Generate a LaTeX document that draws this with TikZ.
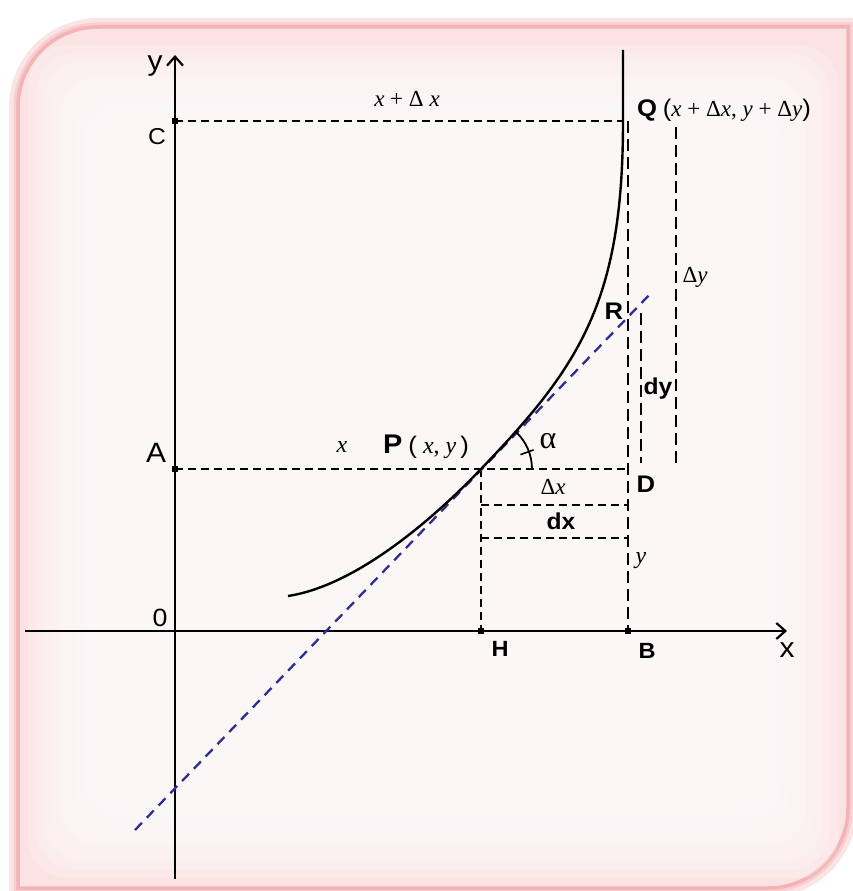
\documentclass[tikz,border=0pt]{standalone}
\usepackage{fontspec}
\setmainfont{Liberation Serif}
\setsansfont[FakeStretch=1.07]{Liberation Sans}
\usetikzlibrary{arrows.meta}

\definecolor{framepink}{HTML}{F4B3B5}
\definecolor{edgepink}{HTML}{FBE3E4}
\definecolor{corepink}{HTML}{FEFAFA}
\definecolor{tanblue}{HTML}{2E2E8F}
\newcommand{\fsz}[1]{\fontsize{#1}{#1}\selectfont}
\newcommand{\framepath}{(18,888) -- (18,107) arc[start angle=180, end angle=270, radius=80]
  -- (848,27) -- (848,808) arc[start angle=0, end angle=90, radius=80] -- cycle}

\begin{document}
\begin{tikzpicture}[x=1pt, y=-1pt,
  every node/.style={inner sep=0pt},
  axis/.style={line width=2.5pt, -{Straight Barb[length=9pt,width=16pt,line width=2.2pt]}},
  guide/.style={line width=2.2pt, dash pattern=on 8pt off 5pt},
  thinguide/.style={line width=1.5pt, dash pattern=on 12pt off 6pt},
  tangent/.style={draw=tanblue, line width=2.3pt, dash pattern=on 10pt off 7pt},
  curve/.style={line width=2.4pt},
  tick/.style={rectangle, fill=black, minimum size=5.5pt},
  ptlbl/.style={font=\sffamily\bfseries\fsz{24}},
  var/.style={font=\fsz{23}}]

\useasboundingbox (0,0) rectangle (852,891);

% frame
\draw[framepink!35, line width=18pt] \framepath;
\draw[framepink!65, line width=9pt] \framepath;
\fill[edgepink] \framepath;
\draw[framepink, line width=3.5pt] \framepath;
\begin{scope}
  \clip \framepath;
  \foreach \i in {0,...,11}
    \fill[corepink, opacity=0.25, rounded corners=40pt]
      (28+8*\i,45+8*\i) rectangle (838-8*\i,878-8*\i);
\end{scope}

% points
\coordinate (O) at (175,631);
\coordinate (C) at (175,121);
\coordinate (A) at (175,469);
\coordinate (P) at (481,469);
\coordinate (H) at (481,631);
\coordinate (Q) at (623,121);
\coordinate (Qv) at (628,121);
\coordinate (D) at (628,469);
\coordinate (B) at (628,631);
\coordinate (dxa) at (481,505);
\coordinate (dxaR) at (628,505);
\coordinate (dxb) at (481,538);
\coordinate (dxbR) at (628,538);
\coordinate (dytop) at (641,313);
\coordinate (dybot) at (641,463);
\coordinate (Dytop) at (676,127);
\coordinate (Dybot) at (676,463);
\coordinate (ybot) at (175,879);
\coordinate (ytop) at (175,55);
\coordinate (xleft) at (25,631);
\coordinate (xright) at (787,631);
\coordinate (tanlow) at (135,830);
\coordinate (tanhigh) at (652,292);
\coordinate (cstart) at (288,596);
\coordinate (cend) at (623,50);

% dashed guides
\draw[guide] (C) -- (Q);
\draw[guide] (A) -- (D);
\draw[guide] (P) -- (H);
\draw[guide] (dxa) -- (dxaR);
\draw[guide] (dxb) -- (dxbR);
\draw[thinguide] (Qv) -- (B);
\draw[thinguide] (dytop) -- (dybot);
\draw[thinguide] (Dytop) -- (Dybot);

% axes
\draw[axis] (ybot) -- (ytop);
\draw[axis] (xleft) -- (xright);
\node[tick] (tC) at (C) {};
\node[tick] (tA) at (A) {};
\node[tick] (tH) at (H) {};
\node[tick] (tB) at (B) {};

% tangent and curve
\draw[tangent] (tanlow) -- (tanhigh);
\draw[curve] (cstart) .. controls (360,585) and (440,512) .. (P)
  .. controls (581,365) and (623,300) .. (Q) -- (cend);

% angle
\draw[line width=1.8pt] (P) ++(0:51) arc[start angle=0, end angle=-46, radius=51];
\draw[line width=1.6pt] (P) ++(-20:42) -- ++(-20:14);

% labels
\node[font=\sffamily\fsz{28}] (ylab) at (155,66) {y};
\node[font=\sffamily\fsz{28}] (xlab) at (787,650) {x};
\node[font=\sffamily\fsz{25}] (Olab) at (160,618) {0};
\node[font=\sffamily\fsz{23}] (Clab) at (157,137) {C};
\node[font=\sffamily\fsz{28}] (Alab) at (156,453) {A};
\node[font=\sffamily\bfseries\fsz{22}] (Hlab) at (500,649) {H};
\node[font=\sffamily\bfseries\fsz{22}] (Blab) at (647,651) {B};
\node[ptlbl] (Rlab) at (614,311) {R};
\node[ptlbl] (Dlab) at (646,484) {D};
\node[font=\sffamily\bfseries\fsz{23}] (dylab) at (658,389) {dy};
\node[font=\sffamily\bfseries\fsz{23}] (dxlab) at (561,521) {dx};
\node[var] (Dxlab) at (553,487) {Δ\textit{x}};
\node[var] (Dylab) at (695,277) {Δ\textit{y}};
\node[font=\fsz{24}] (yvar) at (641,561) {\textit{y}};
\node[font=\fsz{24}] (xvar) at (342,447) {\textit{x}};
\node[var] (xDx) at (407,99) {\textit{x} + Δ \textit{x}};
\node[font=\fsz{32}] (alab) at (548,441) {α};
\node[anchor=base west, var] (Qlab) at (637,116)
  {{\sffamily\bfseries\fsz{24}Q} {\sffamily\fsz{24}(}\textit{x} + Δ\textit{x}, \textit{y} + Δ\textit{y}{\sffamily\fsz{24})}};
\node[anchor=base west, font=\fsz{24}] (Plab) at (383,453)
  {{\sffamily\bfseries\fsz{27}P} {\sffamily(} \textit{x}, \textit{y}\,{\sffamily)}};
\end{tikzpicture}
\end{document}
